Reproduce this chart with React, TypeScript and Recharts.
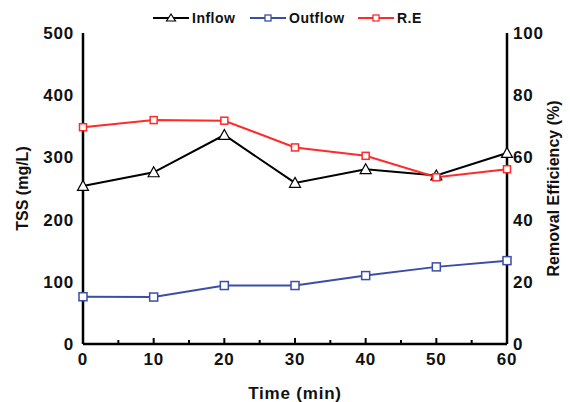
import React from 'react';
import { LineChart, Line, XAxis, YAxis } from 'recharts';

const times = [0, 10, 20, 30, 40, 50, 60];
const inflow = [254, 276, 336, 259, 281, 271, 307];
const outflow = [76, 75.5, 94, 94, 110, 124, 134];
const removal = [69.7, 72, 71.8, 63.2, 60.5, 53.6, 56.2];
const xTicks = [0, 5, 10, 15, 20, 25, 30, 35, 40, 45, 50, 55, 60];
const leftTicks = [0, 100, 200, 300, 400, 500];
const rightTicks = [0, 20, 40, 60, 80, 100];

const data = times.map((t, i) => ({ t, inflow: inflow[i], outflow: outflow[i], re: removal[i] }));

const FONT = '"Liberation Sans", Arial, sans-serif';
const BLUE = '#3b4ea6';
const RED = '#ff2a2a';

const TriDot = (p: any) => {
  const { cx, cy, index } = p;
  if (cx == null || cy == null) return <g key={index} />;
  const s = 5.5;
  return (
    <path
      key={index}
      d={`M${cx},${cy - s} L${cx + s},${cy + s * 0.8} L${cx - s},${cy + s * 0.8} Z`}
      fill="#fff"
      stroke="#000"
      strokeWidth={1.2}
    />
  );
};

const sqDot = (color: string, s: number) => (p: any) => {
  const { cx, cy, index } = p;
  if (cx == null || cy == null) return <g key={index} />;
  return <rect key={index} x={cx - s} y={cy - s} width={2 * s} height={2 * s} fill="#fff" stroke={color} strokeWidth={1.5} />;
};

const XTick = (p: any) => {
  const { x, y, payload } = p;
  const v = payload.value;
  const major = v % 10 === 0;
  return (
    <g>
      <line x1={x} x2={x} y1={y} y2={y - (major ? 6 : 4)} stroke="#000" strokeWidth={2} />
      {major && (
        <text x={x} y={y + 21} textAnchor="middle" fontFamily={FONT} fontWeight="bold" fontSize={17} letterSpacing={0.8} fill="#111">
          {v}
        </text>
      )}
    </g>
  );
};

const LegendOverlay = () => {
  const items = [
    { name: 'Inflow', color: '#000', x: 153, marker: 'tri' },
    { name: 'Outflow', color: BLUE, x: 250, marker: 'sq' },
    { name: 'R.E', color: RED, x: 358, marker: 'sq' },
  ];
  const y = 18;
  return (
    <svg width={570} height={32} style={{ position: 'absolute', left: 0, top: 0 }}>
      {items.map((it) => {
        const cx = it.x + 18;
        return (
          <g key={it.name}>
            <line x1={it.x} x2={it.x + 36} y1={y} y2={y} stroke={it.color} strokeWidth={2} />
            {it.marker === 'tri' ? (
              <path d={`M${cx},${y - 4} L${cx + 4.5},${y + 3} L${cx - 4.5},${y + 3} Z`} fill="#fff" stroke={it.color} strokeWidth={1.2} />
            ) : (
              <rect x={cx - 3} y={y - 3} width={6} height={6} fill="#fff" stroke={it.color} strokeWidth={1.3} />
            )}
            <text x={it.x + 39} y={y + 5} fontFamily={FONT} fontWeight="bold" fontSize={14} letterSpacing={0.5} fill="#111">
              {it.name}
            </text>
          </g>
        );
      })}
    </svg>
  );
};

const LeftLabel = (p: any) => {
  const vb = p.viewBox || { x: 0, y: 33, width: 83, height: 311 };
  const cx = vb.x + 22;
  const cy = vb.y + vb.height / 2;
  return (
    <text x={cx} y={cy} transform={`rotate(-90 ${cx} ${cy})`} textAnchor="middle" dominantBaseline="central" fontFamily={FONT} fontWeight="bold" fontSize={16} fill="#111">
      TSS (mg/L)
    </text>
  );
};

const RightLabel = (p: any) => {
  const vb = p.viewBox || { x: 507, y: 33, width: 63, height: 311 };
  const cx = vb.x + 46;
  const cy = vb.y + vb.height / 2;
  return (
    <text x={cx} y={cy} transform={`rotate(-90 ${cx} ${cy})`} textAnchor="middle" dominantBaseline="central" fontFamily={FONT} fontWeight="bold" fontSize={16} fill="#111">
      Removal Efficiency (%)
    </text>
  );
};

const BottomLabel = (p: any) => {
  const vb = p.viewBox || { x: 83, y: 344, width: 424, height: 58 };
  const cx = vb.x + vb.width / 2;
  return (
    <text x={cx} y={vb.y + 55} textAnchor="middle" fontFamily={FONT} fontWeight="bold" fontSize={17} letterSpacing={0.8} fill="#111">
      Time (min)
    </text>
  );
};

const tickStyle = { fontFamily: FONT, fontWeight: 'bold', fontSize: 17, fill: '#111', letterSpacing: 0.8 };

export default function App() {
  return (
    <div style={{ position: 'absolute', left: 0, top: 0, width: 570, height: 402, background: '#fff' }}>
      <LineChart width={570} height={402} data={data} margin={{ top: 33, right: 0, bottom: 0, left: 0 }}>
        <XAxis
          dataKey="t"
          type="number"
          domain={[0, 60]}
          ticks={xTicks}
          interval={0}
          tick={<XTick />}
          tickLine={false}
          tickSize={0}
          tickMargin={0}
          height={58}
          axisLine={{ stroke: '#000', strokeWidth: 2.5 }}
          label={<BottomLabel />}
        />
        <XAxis xAxisId="top" orientation="top" dataKey="t" type="number" domain={[0, 60]} tick={false} tickLine={false} height={0} axisLine={{ stroke: '#000', strokeWidth: 2.5 }} />
        <YAxis
          yAxisId="left"
          domain={[0, 500]}
          ticks={leftTicks}
          width={83}
          tickLine={false}
          tickSize={0}
          tickMargin={9}
          axisLine={{ stroke: '#000', strokeWidth: 2.5 }}
          tick={tickStyle}
          label={<LeftLabel />}
        />
        <YAxis
          yAxisId="right"
          orientation="right"
          domain={[0, 100]}
          ticks={rightTicks}
          width={63}
          tickLine={false}
          tickSize={0}
          tickMargin={6}
          axisLine={{ stroke: '#000', strokeWidth: 2.5 }}
          tick={{ ...tickStyle, textAnchor: 'start' }}
          label={<RightLabel />}
        />
        <Line yAxisId="left" dataKey="inflow" name="Inflow" stroke="#000" strokeWidth={2} dot={TriDot} isAnimationActive={false} />
        <Line yAxisId="left" dataKey="outflow" name="Outflow" stroke={BLUE} strokeWidth={2} dot={sqDot(BLUE, 4)} isAnimationActive={false} />
        <Line yAxisId="right" dataKey="re" name="R.E" stroke={RED} strokeWidth={2} dot={sqDot(RED, 3.5)} isAnimationActive={false} />
      </LineChart>
      <LegendOverlay />
    </div>
  );
}
